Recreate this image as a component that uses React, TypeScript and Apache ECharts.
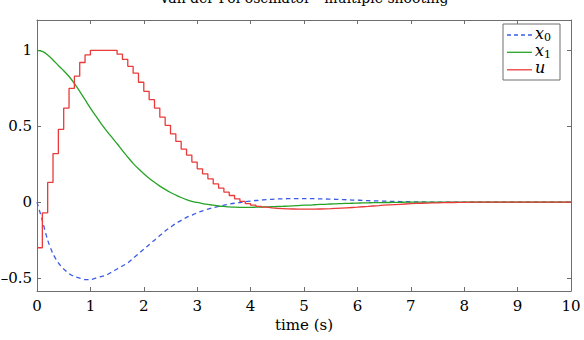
import React, { useEffect, useRef } from "react";
import * as echarts from "echarts";

// Van der Pol oscillator, multiple shooting solution (controls on 0.1 s intervals)
const sampleTimes: number[] = Array.from({ length: 101 }, (_, i) => i / 10);

// state x0, sampled every 0.1 s from t = 0 to t = 10
const x0Values: number[] = [
  0, -0.12, -0.25, -0.34, -0.4, -0.44, -0.47, -0.49, -0.5, -0.51,
  -0.51, -0.5, -0.49, -0.48, -0.46, -0.44, -0.42, -0.4, -0.37, -0.34,
  -0.31, -0.28, -0.25, -0.22, -0.19, -0.165, -0.14, -0.12, -0.1, -0.085,
  -0.07, -0.057, -0.046, -0.036, -0.027, -0.02, -0.013, -0.007, -0.002, 0.003,
  0.007, 0.011, 0.014, 0.017, 0.019, 0.021, 0.022, 0.023, 0.024, 0.024,
  0.024, 0.024, 0.023, 0.022, 0.021, 0.02, 0.019, 0.017, 0.016, 0.014,
  0.013, 0.012, 0.01, 0.009, 0.008, 0.007, 0.006, 0.005, 0.004, 0.003,
  0.003, 0.002, 0.002, 0.001, 0.001, 0.001, 0.001, 0, 0, 0,
  0, 0, 0, 0, 0, 0, 0, 0, 0, 0,
  0, 0, 0, 0, 0, 0, 0, 0, 0, 0,
  0,
];

// state x1, sampled every 0.1 s from t = 0 to t = 10
const x1Values: number[] = [
  1, 0.993, 0.97, 0.937, 0.9, 0.866, 0.828, 0.782, 0.73, 0.675,
  0.62, 0.568, 0.518, 0.472, 0.428, 0.385, 0.34, 0.297, 0.256, 0.22,
  0.188, 0.158, 0.131, 0.106, 0.084, 0.064, 0.047, 0.031, 0.017, 0.006,
  -0.002, -0.009, -0.015, -0.02, -0.025, -0.028, -0.031, -0.033, -0.034, -0.034,
  -0.034, -0.033, -0.032, -0.031, -0.03, -0.028, -0.027, -0.026, -0.024, -0.022,
  -0.02, -0.019, -0.017, -0.015, -0.014, -0.012, -0.011, -0.009, -0.008, -0.007,
  -0.006, -0.005, -0.004, -0.003, -0.003, -0.002, -0.002, -0.001, -0.001, 0,
  0, 0, 0, 0, 0, 0, 0, 0, 0, 0,
  0, 0, 0, 0, 0, 0, 0, 0, 0, 0,
  0, 0, 0, 0, 0, 0, 0, 0, 0, 0,
  0,
];

// piecewise-constant control u, one value per 0.1 s interval
const uValues: number[] = [
  -0.3, -0.07, 0.13, 0.32, 0.48, 0.62, 0.75, 0.83, 0.92, 0.97,
  1, 1, 1, 1, 1, 0.975, 0.94, 0.895, 0.85, 0.79,
  0.73, 0.675, 0.62, 0.56, 0.506, 0.45, 0.4, 0.35, 0.31, 0.264,
  0.22, 0.187, 0.154, 0.12, 0.092, 0.066, 0.044, 0.022, 0.005, -0.01,
  -0.02, -0.028, -0.033, -0.037, -0.04, -0.042, -0.044, -0.045, -0.046, -0.046,
  -0.046, -0.046, -0.045, -0.044, -0.043, -0.041, -0.039, -0.037, -0.035, -0.033,
  -0.03, -0.028, -0.025, -0.023, -0.02, -0.018, -0.016, -0.014, -0.012, -0.01,
  -0.008, -0.007, -0.006, -0.005, -0.004, -0.003, -0.002, -0.002, -0.001, -0.001,
  0, 0, 0, 0, 0, 0, 0, 0, 0, 0,
  0, 0, 0, 0, 0, 0, 0, 0, 0, 0,
];

const xTickValues: number[] = [0, 1, 2, 3, 4, 5, 6, 7, 8, 9, 10];
const yTickValues: number[] = [-0.5, 0, 0.5, 1];

const titleText = "Van der Pol oscillator - multiple shooting";
const xAxisTitle = "time (s)";

const FONT = "DejaVu Serif";
const AXIS_COLOR = "#6e6e6e";
const BLUE = "#3b5be6";
const GREEN = "#26a326";
const RED = "#ea3a3a";

const GRID = { left: 37, right: 13, top: 20, bottom: 49 };

function fmtY(v: number): string {
  return v < 0 ? "\u2013" + String(-v) : String(v);
}

export default function App() {
  const ref = useRef<HTMLDivElement>(null);

  useEffect(() => {
    if (!ref.current) return;
    const chart = echarts.init(ref.current, undefined, { renderer: "svg" });

    const tickStyle = { show: true, inside: true, length: 4, lineStyle: { color: AXIS_COLOR, width: 1 } };
    const lineStyleAxis = { show: true, onZero: false, lineStyle: { color: AXIS_COLOR, width: 1 } };

    const plotLeft = GRID.left;
    const plotRight = 584 - GRID.right;
    const plotCenter = (plotLeft + plotRight) / 2;

    const uData = uValues.map((u, k) => [sampleTimes[k], u]);
    uData.push([sampleTimes[sampleTimes.length - 1], uValues[uValues.length - 1]]);

    const legendLeft = 503;
    const legendTop = 24;
    const entryY = [35, 52.3, 69.8];

    chart.setOption({
      animation: false,
      backgroundColor: "#ffffff",
      textStyle: { fontFamily: FONT },
      grid: { ...GRID, containLabel: false, outerBoundsMode: "none" },
      xAxis: [
        {
          type: "value",
          position: "bottom",
          min: xTickValues[0],
          max: xTickValues[xTickValues.length - 1],
          interval: 1,
          axisLine: lineStyleAxis,
          axisTick: tickStyle,
          splitLine: { show: false },
          axisLabel: { color: "#000", fontFamily: FONT, fontSize: 15, margin: 7 },
          name: xAxisTitle,
          nameLocation: "middle",
          nameGap: 25,
          nameTextStyle: { color: "#000", fontFamily: FONT, fontSize: 15 },
        },
        {
          type: "value",
          position: "top",
          min: xTickValues[0],
          max: xTickValues[xTickValues.length - 1],
          interval: 1,
          axisLine: lineStyleAxis,
          axisTick: tickStyle,
          splitLine: { show: false },
          axisLabel: { show: false },
        },
      ],
      yAxis: [
        {
          type: "value",
          position: "left",
          min: -0.585,
          max: 1.2,
          axisLine: lineStyleAxis,
          axisTick: { ...tickStyle, customValues: yTickValues },
          splitLine: { show: false },
          axisLabel: {
            customValues: yTickValues,
            formatter: (v: number) => fmtY(v),
            color: "#000",
            fontFamily: FONT,
            fontSize: 15,
            margin: 5,
          },
        },
        {
          type: "value",
          position: "right",
          min: -0.585,
          max: 1.2,
          axisLine: lineStyleAxis,
          axisTick: { ...tickStyle, customValues: yTickValues },
          splitLine: { show: false },
          axisLabel: { show: false, customValues: yTickValues },
        },
      ],
      series: [
        {
          name: "x0",
          type: "line",
          xAxisIndex: 0,
          yAxisIndex: 0,
          showSymbol: false,
          smooth: 0.3,
          data: sampleTimes.map((t, i) => [t, x0Values[i]]),
          lineStyle: { color: BLUE, width: 1.3, type: [4.5, 3.5] },
        },
        {
          name: "x1",
          type: "line",
          xAxisIndex: 0,
          yAxisIndex: 0,
          showSymbol: false,
          smooth: 0.3,
          data: sampleTimes.map((t, i) => [t, x1Values[i]]),
          lineStyle: { color: GREEN, width: 1.3 },
        },
        {
          name: "u",
          type: "line",
          xAxisIndex: 0,
          yAxisIndex: 0,
          step: "end",
          showSymbol: false,
          data: uData,
          lineStyle: { color: RED, width: 1.3 },
        },
      ],
      graphic: [
        {
          type: "text",
          x: plotCenter,
          y: -2.5,
          style: {
            text: titleText,
            fontFamily: FONT,
            fontSize: 14,
            fill: "#000",
            align: "center",
            verticalAlign: "middle",
          },
        },
        {
          type: "group",
          z: 100,
          children: [
            {
              type: "rect",
              shape: { x: legendLeft, y: legendTop, width: 57, height: 56 },
              style: { fill: "#fff", stroke: AXIS_COLOR, lineWidth: 1 },
            },
            {
              type: "line",
              shape: { x1: 507, y1: entryY[0], x2: 532, y2: entryY[0] },
              style: { stroke: BLUE, lineWidth: 1.3, lineDash: [4, 3] },
            },
            {
              type: "line",
              shape: { x1: 507, y1: entryY[1], x2: 532, y2: entryY[1] },
              style: { stroke: GREEN, lineWidth: 1.3 },
            },
            {
              type: "line",
              shape: { x1: 507, y1: entryY[2], x2: 532, y2: entryY[2] },
              style: { stroke: RED, lineWidth: 1.3 },
            },
            {
              type: "text",
              x: 535,
              y: entryY[0] - 2,
              style: { text: "x", fontFamily: FONT, fontStyle: "italic", fontSize: 16, fill: "#000", verticalAlign: "middle" },
            },
            {
              type: "text",
              x: 544,
              y: entryY[0] + 2.6,
              style: { text: "0", fontFamily: FONT, fontSize: 11, fill: "#000", verticalAlign: "middle" },
            },
            {
              type: "text",
              x: 535,
              y: entryY[1] - 2,
              style: { text: "x", fontFamily: FONT, fontStyle: "italic", fontSize: 16, fill: "#000", verticalAlign: "middle" },
            },
            {
              type: "text",
              x: 544,
              y: entryY[1] + 2.6,
              style: { text: "1", fontFamily: FONT, fontSize: 11, fill: "#000", verticalAlign: "middle" },
            },
            {
              type: "text",
              x: 535,
              y: entryY[2] - 2,
              style: { text: "u", fontFamily: FONT, fontStyle: "italic", fontSize: 16, fill: "#000", verticalAlign: "middle" },
            },
          ],
        },
      ],
    });

    return () => chart.dispose();
  }, []);

  return (
    <div
      ref={ref}
      style={{ position: "absolute", left: 0, top: 0, width: 584, height: 340, background: "#fff" }}
    />
  );
}
